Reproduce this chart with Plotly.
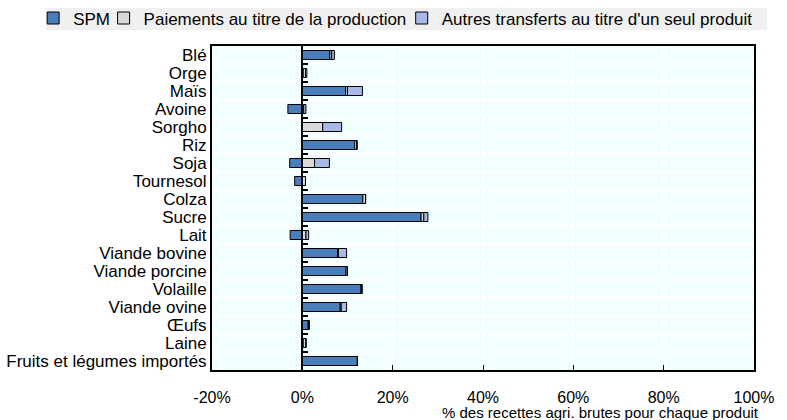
import plotly.graph_objects as go

# data (% of gross farm receipts)
produits = ["Blé", "Orge", "Maïs", "Avoine", "Sorgho", "Riz", "Soja", "Tournesol",
            "Colza", "Sucre", "Lait", "Viande bovine", "Viande porcine", "Volaille",
            "Viande ovine", "Œufs", "Laine", "Fruits et légumes importés"]
spm = [6.1, 0.2, 9.6, -3.2, 0.0, 11.6, -2.8, -1.7, 13.4, 26.3, -2.7, 7.8, 9.7, 13.0, 8.4, 1.3, 0.2, 12.2]
paiements = [0.4, 0.5, 0.4, 0.3, 4.5, 0.5, 2.7, 0.7, 0.6, 0.6, 0.8, 0.2, 0.3, 0.2, 0.2, 0.2, 0.6, 0.0]
autres = [0.6, 0.3, 3.3, 0.5, 4.2, 0.0, 3.3, 0.0, 0.0, 0.9, 0.6, 1.8, 0.0, 0.0, 1.2, 0.0, 0.0, 0.0]
x_ticks = [-20, 0, 20, 40, 60, 80, 100]
x_labels = ["-20%", "0%", "20%", "40%", "60%", "80%", "100%"]

pos = list(range(len(produits)))
font = "Liberation Sans Narrow, Arial Narrow, Liberation Sans, Arial"

fig = go.Figure()
series = [("SPM", spm, "#4A7EBB", "legend", -0.33),
          ("Paiements au titre de la production", paiements, "#D9D9D9", "legend2", -0.2),
          ("Autres transferts au titre d'un seul produit", autres, "#A9B9E6", "legend3", 0.35)]
for name, vals, col, leg, lx in series:
    fig.add_trace(go.Bar(y=pos, x=vals, name=name, orientation="h", width=0.5, legend=leg,
                         marker=dict(color=col, line=dict(color="black", width=1))))
    fig.update_layout({leg: dict(x=lx, y=1.085, xanchor="left", yanchor="middle",
                                 bgcolor="rgba(0,0,0,0)", font=dict(size=17))})

# row boundary ticks on the zero line
fig.add_trace(go.Scatter(x=[None], y=[None], yaxis="y2", showlegend=False))

fig.update_layout(
    width=787, height=420,
    margin=dict(l=212, r=33, t=46, b=50, autoexpand=False),
    barmode="relative",
    paper_bgcolor="white",
    plot_bgcolor="#F2FFFF",
    font=dict(family=font, size=16, color="black"),
    xaxis=dict(range=[-20, 100], tickvals=x_ticks, ticktext=x_labels,
               showgrid=True, gridcolor="white", gridwidth=2, zeroline=False,
               ticks="inside", ticklen=5, tickcolor="black", tickwidth=1,
               ticklabelstandoff=12,
               showline=True, linecolor="black", linewidth=2, mirror=True),
    yaxis=dict(range=[17.5, -0.5], tickvals=pos, ticktext=produits, tickfont=dict(size=17),
               showgrid=False, zeroline=False, ticks="", ticklabelstandoff=0,
               minor=dict(tick0=0.5, dtick=1, showgrid=True, gridcolor="white", gridwidth=2),
               showline=True, linecolor="black", linewidth=2, mirror=True),
    yaxis2=dict(range=[17.5, -0.5], overlaying="y", anchor="free", position=1 / 6,
                side="right", tickvals=[p + 0.5 for p in pos[:-1]],
                ticks="outside", ticklen=5, tickwidth=2, tickcolor="black",
                showticklabels=False, showgrid=False, zeroline=False,
                showline=True, linecolor="black", linewidth=1.5),
    shapes=[dict(type="rect", xref="paper", yref="paper", x0=-0.306, x1=1.024,
                 y0=1.049, y1=1.117, fillcolor="#F0F0F0", line=dict(width=0), layer="below")],
    annotations=[dict(text="% des recettes agri. brutes pour chaque produit",
                      xref="paper", yref="paper", x=1, y=0, xanchor="right", yanchor="top",
                      xshift=7, yshift=-32, showarrow=False, font=dict(size=15))],
)

# page body has a default 8px margin; drop it so the chart sits at the window corner
fig.write_html("out.html", config={"displayModeBar": False},
               post_script="document.body.style.margin='0';")
